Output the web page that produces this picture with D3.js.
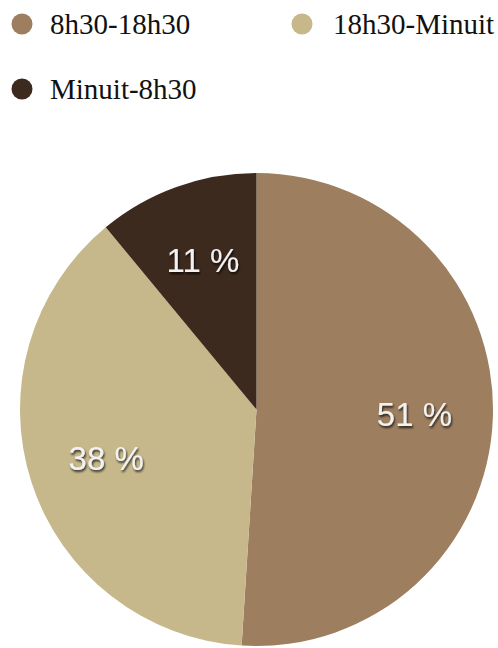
<!DOCTYPE html>
<html>
<head>
<meta charset="utf-8">
<script src="https://cdn.jsdelivr.net/npm/d3@7"></script>
<style>
  html, body { margin: 0; padding: 0; background: #ffffff; }
  svg { display: block; }
</style>
</head>
<body>
<svg id="chart" width="498" height="648"></svg>
<script>
const categories = ["8h30-18h30", "18h30-Minuit", "Minuit-8h30"];
const values = [51, 38, 11];
const colors = ["#9d7e5f", "#c6b88b", "#3d2a1e"];

const svg = d3.select("#chart");

const defs = svg.append("defs");
const f = defs.append("filter").attr("id", "shadow")
  .attr("x", "-20%").attr("y", "-30%").attr("width", "140%").attr("height", "160%");
f.append("feDropShadow").attr("dx", 1).attr("dy", 2).attr("stdDeviation", 1.3)
  .attr("flood-color", "#000").attr("flood-opacity", 0.75);

// Legend
const legendPos = [
  { x: 22, y: 24, tx: 50, ty: 34 },
  { x: 302, y: 24, tx: 333, ty: 34 },
  { x: 22, y: 89, tx: 50, ty: 99 }
];
const legend = svg.append("g");
categories.forEach((c, i) => {
  const p = legendPos[i];
  legend.append("circle").attr("cx", p.x).attr("cy", p.y).attr("r", 10.5).attr("fill", colors[i]);
  legend.append("text").attr("x", p.tx).attr("y", p.ty)
    .attr("font-family", "'Liberation Serif', 'Times New Roman', serif")
    .attr("font-size", 29).attr("fill", "#111").text(c);
});

// Pie
const cx = 256.5, cy = 409.5, R = 236.5;
const pie = d3.pie().sort(null).value(d => d);
const arc = d3.arc().innerRadius(0).outerRadius(R);
const labelArc = d3.arc().innerRadius(158).outerRadius(158);

const g = svg.append("g").attr("transform", `translate(${cx},${cy})`);
const arcs = pie(values);
g.selectAll("path").data(arcs).join("path")
  .attr("d", arc).attr("fill", (d, i) => colors[i]);

g.selectAll("text").data(arcs).join("text")
  .attr("transform", d => `translate(${labelArc.centroid(d)})`)
  .attr("text-anchor", "middle")
  .attr("dy", "0.35em")
  .attr("font-family", "'Liberation Sans', Arial, sans-serif")
  .attr("font-size", 33)
  .attr("fill", "#f2f2f2")
  .attr("filter", "url(#shadow)")
  .text(d => d.data + " %");
</script>
</body>
</html>
